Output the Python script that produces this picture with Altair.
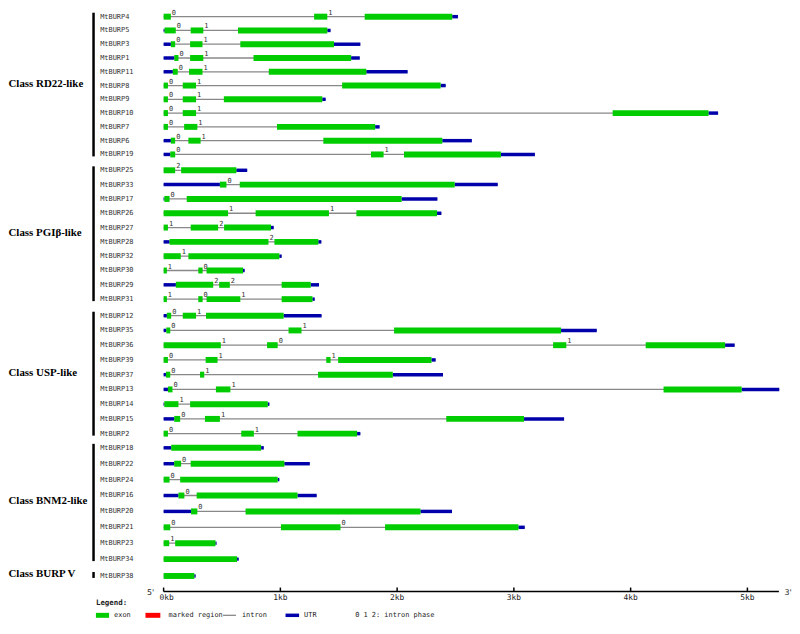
import altair as alt
import pandas as pd

# ---------------- data ----------------
class_names = ["Class RD22-like", "Class PGIβ-like", "Class USP-like", "Class BNM2-like", "Class BURP V"]
class_sizes = [11, 10, 9, 8, 1]

gene_names = [
    "MtBURP4", "MtBURP5", "MtBURP3", "MtBURP1", "MtBURP11", "MtBURP8", "MtBURP9", "MtBURP10", "MtBURP7", "MtBURP6", "MtBURP19",
    "MtBURP25", "MtBURP33", "MtBURP17", "MtBURP26", "MtBURP27", "MtBURP28", "MtBURP32", "MtBURP30", "MtBURP29", "MtBURP31",
    "MtBURP12", "MtBURP35", "MtBURP36", "MtBURP39", "MtBURP37", "MtBURP13", "MtBURP14", "MtBURP15", "MtBURP2",
    "MtBURP18", "MtBURP22", "MtBURP24", "MtBURP16", "MtBURP20", "MtBURP21", "MtBURP23", "MtBURP34",
    "MtBURP38",
]

# exon intervals (bp)
gene_exons = [
    [(0, 62), (1289, 1402), (1722, 2472)],
    [(8, 104), (232, 340), (637, 1402)],
    [(62, 99), (227, 333), (657, 1459)],
    [(91, 127), (227, 340), (770, 1606)],
    [(79, 121), (218, 333), (901, 1736)],
    [(0, 37), (164, 278), (1529, 2373)],
    [(0, 37), (164, 278), (516, 1359)],
    [(0, 37), (164, 278), (3846, 4667)],
    [(0, 37), (176, 289), (971, 1812)],
    [(62, 99), (212, 317), (1368, 2387)],
    [(57, 99), (1776, 1884), (2059, 2889)],
    [(0, 99), (150, 623)],
    [(482, 538), (652, 2493)],
    [(6, 51), (198, 2039)],
    [(0, 552), (788, 1416), (1651, 2342)],
    [(0, 37), (232, 467), (518, 920)],
    [(51, 898), (949, 1325)],
    [(0, 147), (212, 991)],
    [(0, 28), (297, 334), (368, 680)],
    [(105, 425), (476, 567), (1011, 1260)],
    [(0, 28), (297, 334), (368, 657), (1011, 1275)],
    [(28, 65), (164, 278), (363, 1028)],
    [(23, 57), (1070, 1181), (1974, 3404)],
    [(0, 490), (886, 977), (3336, 3449), (4129, 4809)],
    [(0, 37), (360, 462), (1393, 1430), (1495, 2294)],
    [(20, 57), (312, 348), (1323, 1963)],
    [(37, 76), (448, 572), (4282, 4951)],
    [(6, 127), (227, 892)],
    [(91, 142), (354, 482), (2421, 3087)],
    [(0, 37), (665, 773), (1147, 1657)],
    [(65, 835)],
    [(91, 150), (232, 1034)],
    [(0, 51), (142, 977)],
    [(127, 178), (283, 1147)],
    [(235, 289), (702, 2200)],
    [(0, 57), (1005, 1515), (1897, 3039)],
    [(0, 48), (99, 444)],
    [(0, 629)],
    [(0, 263)],
]

# UTR intervals (bp)
gene_utrs = [
    [(2472, 2521)],
    [(0, 8), (1402, 1430)],
    [(0, 62), (1459, 1685)],
    [(0, 91), (1606, 1680)],
    [(0, 79), (1736, 2090)],
    [(2373, 2416)],
    [(1359, 1388)],
    [(4667, 4749)],
    [(1812, 1850)],
    [(0, 62), (2387, 2640)],
    [(0, 57), (2889, 3180)],
    [(623, 716)],
    [(0, 482), (2493, 2862)],
    [(0, 6), (2039, 2345)],
    [(2342, 2379)],
    [(920, 943)],
    [(0, 51), (1325, 1351)],
    [(991, 1011)],
    [(680, 694)],
    [(0, 105), (1260, 1331)],
    [(1275, 1294)],
    [(0, 28), (1028, 1353)],
    [(0, 23), (3404, 3710)],
    [(4809, 4891)],
    [(2294, 2330)],
    [(0, 20), (1963, 2393)],
    [(0, 37), (4951, 5273)],
    [(0, 6), (892, 906)],
    [(0, 91), (3087, 3430)],
    [(1657, 1685)],
    [(0, 65), (835, 858)],
    [(0, 91), (1034, 1252)],
    [(977, 991)],
    [(0, 127), (1147, 1311)],
    [(0, 235), (2200, 2470)],
    [(3039, 3093)],
    [(444, 453)],
    [(629, 643)],
    [(263, 274)],
]

# intron phases, in order of the introns
gene_phases = [
    [0, 1], [0, 1], [0, 1], [0, 1], [0, 1], [0, 1], [0, 1], [0, 1], [0, 1], [0, 1], [0, 1],
    [2], [0], [0], [1, 1], [1, 2], [2], [1], [1, 0], [2, 2], [1, 0, 1],
    [0, 1], [0, 1], [1, 0, 1], [0, 1, 1], [0, 1], [0, 1], [1], [0, 1], [0, 1],
    [], [0], [0], [0], [0], [0, 0], [1], [],
    [],
]

axis_ticks = [0, 1000, 2000, 3000, 4000, 5000]
axis_labels = ["0kb", "1kb", "2kb", "3kb", "4kb", "5kb"]
axis_end = 5270

# ---------------- tables ----------------
seg_rows, intron_rows, phase_rows, name_rows = [], [], [], []
for r, name in enumerate(gene_names):
    ex = sorted(gene_exons[r])
    ut = gene_utrs[r]
    for s, e in ex:
        seg_rows.append({"gene": name, "row": r, "start": s, "end": e, "kind": "exon"})
    for s, e in ut:
        seg_rows.append({"gene": name, "row": r, "start": s, "end": e, "kind": "utr"})
    allpos = [p for seg in ex + ut for p in seg]
    intron_rows.append({"gene": name, "row": r, "start": min(allpos), "end": max(allpos)})
    k = 0
    for i in range(len(ex) - 1):
        if ex[i + 1][0] > ex[i][1] and k < len(gene_phases[r]):
            phase_rows.append({"row": r, "pos": ex[i][1], "label": str(gene_phases[r][k])})
            k += 1
    name_rows.append({"row": r, "name": name})

class_rows = []
first = 0
for cname, n in zip(class_names, class_sizes):
    last = first + n - 1
    class_rows.append({"name": cname, "first": first, "last": last, "mid": (first + last) / 2})
    first = last + 1

seg_df = pd.DataFrame(seg_rows)
intron_df = pd.DataFrame(intron_rows)
phase_df = pd.DataFrame(phase_rows)
name_df = pd.DataFrame(name_rows)
class_df = pd.DataFrame(class_rows)
tick_df = pd.DataFrame({"value": axis_ticks, "label": axis_labels})
axis_df = pd.DataFrame({"start": [0], "end": [axis_end]})
one = pd.DataFrame({"a": [0]})

# ---------------- scales ----------------
X = alt.Scale(domain=[0, axis_end], range=[157, 777.8], nice=False, zero=False)
Y = alt.Scale(domain=[0, 10, 11, 20, 21, 29, 30, 37, 38],
              range=[6, 145, 161, 291, 307.7, 426.7, 441, 553.3, 570.3],
              nice=False, zero=False)

GREEN = "#00cc00"
BLUE = "#0000aa"
GRAY = "#888888"
MONO = "DejaVu Sans Mono"

def xq(f):
    return alt.X(f, type="quantitative", scale=X, axis=None)

def yq(f):
    return alt.Y(f, type="quantitative", scale=Y, axis=None)

introns = alt.Chart(intron_df).mark_rule(color=GRAY, strokeWidth=1.3).encode(
    x=xq("start"), x2="end", y=yq("row"))

utrs = alt.Chart(seg_df).transform_filter(alt.datum.kind == "utr").mark_rule(
    color=BLUE, strokeWidth=3.5).encode(x=xq("start"), x2="end", y=yq("row"))

exons = alt.Chart(seg_df).transform_filter(alt.datum.kind == "exon").mark_rule(
    color=GREEN, strokeWidth=6).encode(x=xq("start"), x2="end", y=yq("row"))

phases = alt.Chart(phase_df).mark_text(
    align="left", baseline="alphabetic", dx=1, dy=-2, font=MONO, fontSize=7, color="#333333"
).encode(x=xq("pos"), y=yq("row"), text="label:N")

names = alt.Chart(name_df).mark_text(
    align="left", baseline="middle", font=MONO, fontSize=7, color="#333333"
).encode(x=alt.value(93), y=yq("row"), text="name:N")

bars = alt.Chart(class_df).mark_rule(color="black", strokeWidth=2.5, yOffset=-4, y2Offset=2).encode(
    x=alt.value(86.3), y=yq("first"), y2="last")

class_text = alt.Chart(class_df).mark_text(
    align="left", baseline="middle", font="Liberation Serif", fontSize=11, fontWeight="bold",
    color="black", dy=-2
).encode(x=alt.value(0.5), y=yq("mid"), text="name:N")

axis_line = alt.Chart(axis_df).mark_rule(color="black", strokeWidth=1.5).encode(
    x=xq("start"), x2="end", y=alt.value(586))

axis_ticks_m = alt.Chart(tick_df).mark_rule(color="black", strokeWidth=1.5).encode(
    x=xq("value"), y=alt.value(582), y2=alt.value(586))

axis_text_first = alt.Chart(tick_df).transform_filter("datum.value == 0").mark_text(
    baseline="middle", align="center", font=MONO, fontSize=8, color="#222222", dx=3
).encode(x=xq("value"), y=alt.value(592.5), text="label:N")

axis_text_rest = alt.Chart(tick_df).transform_filter("datum.value > 0").mark_text(
    baseline="middle", align="center", font=MONO, fontSize=8, color="#222222"
).encode(x=xq("value"), y=alt.value(592.5), text="label:N")

def label(txt, x, y, size=7, weight="normal", align="left", font=MONO, color="#222222"):
    return alt.Chart(one).mark_text(
        align=align, baseline="middle", font=font, fontSize=size, fontWeight=weight, color=color
    ).encode(x=alt.value(x), y=alt.value(y), text=alt.value(txt))

def swatch(x1, x2, y, color, w):
    return alt.Chart(one).mark_rule(color=color, strokeWidth=w).encode(
        x=alt.value(x1), x2=alt.value(x2), y=alt.value(y))

LY = 610
legend = [
    label("5'", 147.5, 587, size=8, font="DejaVu Sans", align="right"),
    label("3'", 787, 587, size=8, font="DejaVu Sans", align="center"),
    label("Legend:", 88.7, 598, size=7.5, weight="bold"),
    swatch(88.7, 102, LY, GREEN, 5),
    label("exon", 107, LY),
    swatch(138.7, 153.7, LY, "#ff0000", 5),
    label("marked region", 162, LY),
    swatch(217, 230, LY, GRAY, 1.3),
    label("intron", 236, LY),
    swatch(280, 293.7, LY, BLUE, 3.5),
    label("UTR", 298.7, LY),
    label("0 1 2: intron phase", 350.3, LY),
]

chart = alt.layer(
    introns, utrs, exons, phases, names, bars, class_text,
    axis_line, axis_ticks_m, axis_text_first, axis_text_rest, *legend
).properties(
    width=791, height=614, padding=0, autosize=alt.AutoSizeParams(type="none")
).configure_view(stroke=None)

chart.save("out.html", embed_options={"renderer": "svg", "actions": False})
